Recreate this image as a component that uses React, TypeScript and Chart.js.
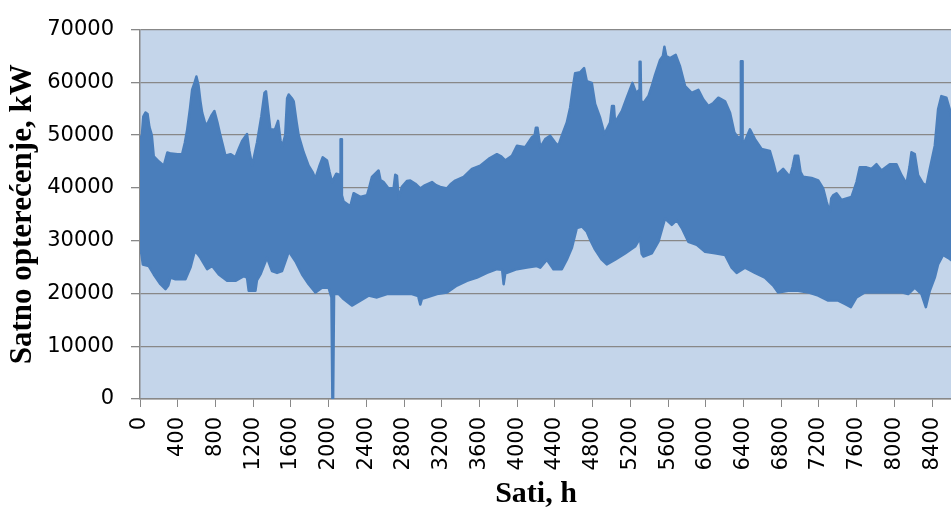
import React, { useEffect, useRef } from "react";
import { Chart, registerables } from "chart.js";

Chart.register(...registerables);

// Hourly load envelope (upper = daily peaks, lower = night minima)
const upperHours = [0, 20, 35, 58, 80, 100, 125, 146, 200, 252, 290, 330, 400, 447, 475, 500, 530, 553, 580, 598, 620, 640, 659, 690, 712, 760, 789, 820, 853, 880, 906, 959, 1012, 1050, 1083, 1135, 1160, 1189, 1241, 1287, 1320, 1336, 1360, 1382, 1430, 1464, 1490, 1506, 1540, 1560, 1577, 1610, 1630, 1660, 1683, 1735, 1788, 1830, 1859, 1900, 1937, 1983, 2010, 2036, 2082, 2110, 2122, 2127, 2136, 2141, 2159, 2230, 2265, 2336, 2407, 2430, 2460, 2530, 2550, 2583, 2636, 2690, 2707, 2725, 2742, 2777, 2830, 2866, 2920, 2972, 3020, 3096, 3140, 3184, 3255, 3300, 3343, 3432, 3520, 3608, 3697, 3785, 3830, 3873, 3944, 3997, 4085, 4156, 4185, 4198, 4215, 4244, 4297, 4349, 4402, 4437, 4473, 4526, 4561, 4590, 4614, 4667, 4709, 4738, 4791, 4826, 4879, 4925, 4985, 5005, 5025, 5038, 5109, 5162, 5222, 5261, 5292, 5298, 5308, 5314, 5339, 5392, 5430, 5462, 5515, 5545, 5561, 5580, 5621, 5681, 5727, 5780, 5850, 5921, 5974, 6027, 6080, 6133, 6204, 6257, 6303, 6338, 6366, 6372, 6384, 6390, 6415, 6468, 6521, 6591, 6679, 6714, 6750, 6820, 6891, 6920, 6944, 6979, 7005, 7032, 7121, 7192, 7245, 7280, 7305, 7315, 7330, 7350, 7386, 7439, 7545, 7598, 7633, 7704, 7757, 7810, 7863, 7951, 8022, 8075, 8128, 8160, 8181, 8216, 8251, 8304, 8340, 8375, 8428, 8463, 8498, 8551, 8587, 8620];
const upperLoad = [49500, 50000, 53500, 54300, 54000, 51500, 50000, 46000, 45000, 44200, 46700, 46500, 46400, 46400, 48500, 51000, 55000, 58600, 60000, 61100, 59500, 56500, 54250, 52300, 52000, 53800, 54560, 52500, 49900, 48000, 46100, 46400, 45800, 47500, 48900, 50200, 47000, 44200, 48600, 53600, 58000, 58300, 54500, 51100, 51000, 52700, 49000, 47700, 50000, 57000, 57700, 57000, 56400, 52500, 49900, 46750, 44200, 43000, 41750, 44000, 45800, 45200, 43000, 41100, 42700, 42500, 42000, 49200, 49200, 38600, 37400, 36500, 39000, 38300, 38600, 40000, 42100, 43300, 41500, 41100, 39900, 40000, 42500, 42300, 38000, 40200, 41300, 41400, 40800, 39900, 40500, 41100, 40500, 40200, 39900, 40800, 41400, 42100, 43600, 44200, 45500, 46400, 46000, 45200, 46100, 48000, 47700, 49600, 50000, 51400, 51400, 47700, 49250, 49900, 48600, 48000, 49900, 52400, 55200, 59000, 61750, 61900, 62700, 60200, 59900, 55900, 53300, 50200, 52400, 55500, 55500, 52400, 54560, 57100, 59900, 58000, 58500, 63900, 63900, 56500, 56100, 57400, 59500, 61400, 64250, 65000, 66750, 65000, 64600, 65200, 63000, 59300, 58000, 58600, 56750, 55500, 56100, 57100, 56400, 54250, 50500, 49600, 49600, 64000, 64000, 48800, 48900, 51100, 49250, 47400, 47000, 44900, 42400, 43600, 42100, 44000, 46100, 46100, 43000, 42100, 41900, 41400, 39900, 37400, 36000, 35500, 38000, 38600, 39000, 37700, 38300, 41100, 43900, 43900, 43600, 44500, 43300, 44500, 44500, 42400, 40800, 44000, 46750, 46400, 42400, 40800, 40500, 43600, 48000, 54900, 57400, 57100, 54900, 52000];

const lowerHours = [0, 15, 30, 93, 146, 217, 270, 300, 323, 376, 482, 535, 581, 610, 641, 712, 765, 836, 924, 1012, 1100, 1135, 1153, 1224, 1240, 1277, 1330, 1347, 1400, 1453, 1506, 1560, 1577, 1648, 1719, 1789, 1860, 1930, 2000, 2030, 2040, 2048, 2058, 2106, 2159, 2247, 2336, 2424, 2513, 2619, 2742, 2883, 2950, 2972, 2990, 3043, 3149, 3255, 3361, 3467, 3573, 3679, 3785, 3840, 3856, 3875, 3891, 3997, 4103, 4209, 4244, 4315, 4384, 4473, 4526, 4579, 4632, 4685, 4738, 4773, 4826, 4897, 4950, 5038, 5144, 5250, 5303, 5320, 5339, 5427, 5498, 5568, 5639, 5692, 5745, 5815, 5904, 5992, 6098, 6204, 6274, 6327, 6415, 6521, 6626, 6714, 6767, 6873, 6979, 7085, 7192, 7298, 7404, 7474, 7538, 7598, 7686, 7827, 7969, 8075, 8146, 8216, 8287, 8333, 8375, 8428, 8463, 8516, 8569, 8620];
const lowerLoad = [28000, 27500, 25500, 25200, 23600, 21750, 20800, 21500, 23000, 22700, 22700, 24900, 28000, 27500, 26750, 24600, 25200, 23600, 22400, 22400, 23300, 23000, 20500, 20500, 22500, 23600, 26000, 26750, 24250, 23900, 24250, 27000, 28000, 26100, 23600, 21750, 20200, 21100, 21100, 19250, 0, 0, 19900, 19900, 18950, 17700, 18650, 19600, 19250, 19900, 19900, 19900, 19500, 17900, 19000, 19250, 19900, 20200, 21500, 22400, 23000, 23900, 24600, 24500, 21750, 24000, 23900, 24600, 24900, 25200, 24900, 26400, 24600, 24600, 26400, 28600, 32400, 32700, 31700, 30200, 28300, 26400, 25500, 26400, 27600, 28900, 30500, 27500, 27000, 27600, 29800, 34200, 33000, 33900, 32400, 29800, 29200, 27900, 27600, 27300, 24900, 23900, 24900, 23900, 23000, 21500, 20200, 20500, 20500, 20200, 19600, 18650, 18650, 18000, 17400, 19250, 20200, 20200, 20200, 20200, 19900, 21100, 19900, 17400, 20500, 23000, 25500, 27300, 26750, 26100];

const xMin = 0;
const xMax = 8600;
const xStep = 400;
const yMin = 0;
const yMax = 70000;
const yStep = 10000;

const yTitle = "Satno opterećenje, kW";
const xTitle = "Sati, h";

const SERIES = "#4a7ebb";
const PLOT_BG = "#c4d5ea";
const GRID = "#888888";
const TITLE_FAMILY = "'Liberation Serif', 'Times New Roman', serif";

const plotBg = {
  id: "plotBg",
  beforeDraw(chart: any) {
    const { ctx, chartArea } = chart;
    if (!chartArea) return;
    ctx.save();
    ctx.fillStyle = PLOT_BG;
    ctx.fillRect(chartArea.left, chartArea.top, chartArea.right - chartArea.left, chartArea.bottom - chartArea.top);
    ctx.restore();
  },
};

// x-axis title, placed where the reference has it (slightly left of the cropped plot's centre)
const xTitlePlugin = {
  id: "xTitle",
  afterDraw(chart: any) {
    const { ctx, chartArea } = chart;
    ctx.save();
    ctx.font = `bold 30px ${TITLE_FAMILY}`;
    ctx.fillStyle = "#000";
    ctx.textAlign = "center";
    ctx.textBaseline = "alphabetic";
    ctx.fillText(xTitle, chartArea.left + 396, 502);
    ctx.restore();
  },
};

export default function App() {
  const ref = useRef<HTMLCanvasElement | null>(null);
  useEffect(() => {
    if (!ref.current) return;
    const upper = upperHours.map((h, i) => ({ x: h, y: upperLoad[i] }));
    const lower = lowerHours.map((h, i) => ({ x: h, y: lowerLoad[i] }));
    const tickFont = { family: "'DejaVu Sans', Verdana, sans-serif", size: 21 };
    const chart = new Chart(ref.current, {
      type: "line",
      data: {
        datasets: [
          {
            label: "max",
            data: upper,
            borderColor: SERIES,
            backgroundColor: SERIES,
            borderWidth: 2.5,
            pointRadius: 0,
            tension: 0,
            fill: false,
            borderJoinStyle: "round",
          },
          {
            label: "min",
            data: lower,
            borderColor: SERIES,
            backgroundColor: SERIES,
            borderWidth: 2.5,
            pointRadius: 0,
            tension: 0,
            fill: "-1",
            borderJoinStyle: "round",
          },
        ],
      },
      options: {
        responsive: false,
        animation: false,
        devicePixelRatio: 1,
        layout: { padding: { top: 26, left: 0, right: 0, bottom: 0 } },
        plugins: { legend: { display: false }, tooltip: { enabled: false } },
        scales: {
          x: {
            type: "linear",
            min: xMin,
            max: xMax,
            grid: { display: true, drawOnChartArea: false, drawTicks: true, tickLength: 8, tickColor: GRID, color: GRID },
            border: { display: true, color: GRID, width: 1.5 },
            ticks: {
              stepSize: xStep,
              includeBounds: false,
              autoSkip: false,
              minRotation: 90,
              maxRotation: 90,
              padding: 10,
              color: "#000",
              font: tickFont,
              callback: (v: any) => String(v),
            },
            title: { display: false },
            afterFit: (s: any) => {
              s.height = 108;
              s.paddingRight = 0;
              s.paddingLeft = 0;
            },
          },
          y: {
            min: yMin,
            max: yMax,
            grid: { color: GRID, lineWidth: 1.3, tickLength: 9, tickColor: GRID },
            border: { display: true, color: GRID, width: 1.5 },
            ticks: { stepSize: yStep, padding: 17, color: "#000", font: tickFont, callback: (v: any) => String(v) },
            title: {
              display: true,
              text: yTitle,
              color: "#000",
              font: { family: TITLE_FAMILY, size: 31, weight: "bold", lineHeight: 1.2 },
              padding: { top: 4, bottom: 0 },
            },
            afterFit: (s: any) => {
              s.width = 140;
            },
          },
        },
      },
      plugins: [plotBg, xTitlePlugin],
    });
    return () => chart.destroy();
  }, []);
  return (
    <div style={{ position: "fixed", left: 0, top: 0, width: 951, height: 507, overflow: "hidden", background: "#fff" }}>
      <canvas ref={ref} width={951} height={507} style={{ display: "block" }} />
    </div>
  );
}
